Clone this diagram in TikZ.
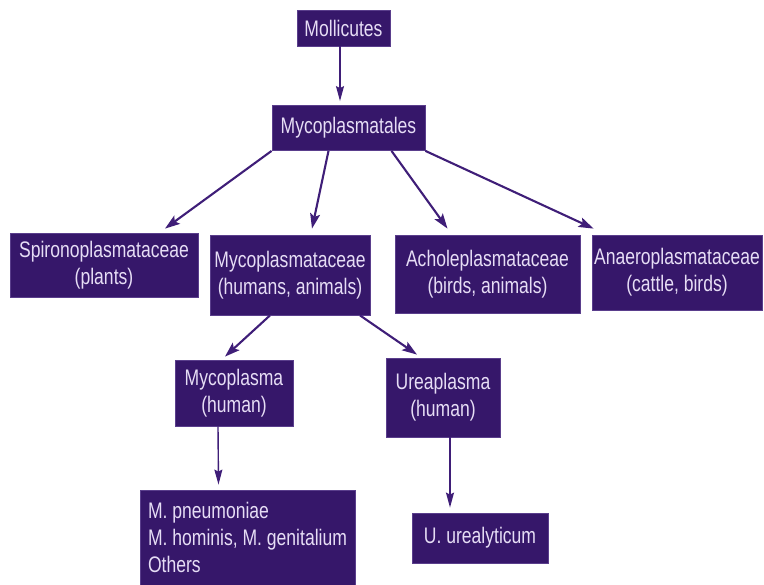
\documentclass[tikz,border=0pt]{standalone}
\usepackage{fontspec}
\setmainfont[FakeStretch=0.78]{Liberation Sans}
\usetikzlibrary{calc,arrows.meta}
\definecolor{boxfill}{HTML}{36176A}
\definecolor{boxline}{HTML}{5A3E8C}
\definecolor{boxtext}{HTML}{E6DDF5}
\definecolor{arrowcol}{HTML}{3F1E78}
\tikzset{
  taxbox/.style={rectangle, fill=boxfill, draw=boxline, line width=0.8pt,
    text=boxtext, align=center, inner sep=0pt,
    font=\fontsize{22.5}{27}\selectfont},
  conn/.style={draw=arrowcol, line width=2.1pt,
    -{Stealth[length=15pt,width=10pt,inset=3pt]}},
  vconn/.style={draw=arrowcol, line width=1.4pt,
    -{Stealth[length=15pt,width=8pt,inset=2pt]}}
}
\begin{document}
\begin{tikzpicture}[x=1pt,y=-1pt]
\useasboundingbox (0,0) rectangle (764,585);
\node[taxbox, minimum width=93pt, minimum height=36pt] (moll) at (343.5,28) {Mollicutes};
\node[taxbox, minimum width=153pt, minimum height=45pt] (ord) at (348.5,128) {Mycoplasmatales};
\node[taxbox, minimum width=188pt, minimum height=64pt] (spiro) at (104,265) {Spironoplasmataceae\\(plants)};
\node[taxbox, minimum width=160pt, minimum height=80pt] (mycf) at (290,275) {Mycoplasmataceae\\(humans, animals)};
\node[taxbox, minimum width=185pt, minimum height=78pt] (achol) at (487.5,274) {Acholeplasmataceae\\(birds, animals)};
\node[taxbox, minimum width=170pt, minimum height=75pt] (anaer) at (677,272.5) {Anaeroplasmataceae\\(cattle, birds)};
\node[taxbox, minimum width=118pt, minimum height=66pt] (mgen) at (234,393) {Mycoplasma\\(human)};
\node[taxbox, minimum width=114pt, minimum height=79pt] (ugen) at (443,397.5) {Ureaplasma\\(human)};
\node[taxbox, minimum width=215pt, minimum height=95pt, align=left] (mspec) at (247.5,537.5) {M. pneumoniae\\M. hominis, M. genitalium\\Others};
\node[taxbox, minimum width=136pt, minimum height=50pt] (uspec) at (480,538) {U. urealyticum};

\draw[vconn] ($(moll.south)+(-3.5,0)$) -- ($(ord.north)+(-8.5,-4)$);
\draw[conn] (ord.south west) -- ($(spiro.north)+(61,-4)$);
\draw[conn] ($(ord.south)+(-20,0)$) -- ($(mycf.north)+(22,-6)$);
\draw[conn] ($(ord.south)+(43,0)$) -- ($(achol.north)+(-40,-6)$);
\draw[conn] (ord.south east) -- ($(anaer.north west)+(2,-6)$);
\draw[conn] ($(mycf.south)+(-20,0)$) -- ($(mgen.north)+(-9,-3)$);
\draw[conn] ($(mycf.south)+(70,0)$) -- ($(ugen.north)+(-26,-3)$);
\draw[vconn] ($(mgen.south)+(-16,0)$) -- ($(mspec.north)+(-29,-5)$);
\draw[vconn] ($(ugen.south)+(7,0)$) -- ($(uspec.north)+(-30,-5)$);
\end{tikzpicture}
\end{document}
